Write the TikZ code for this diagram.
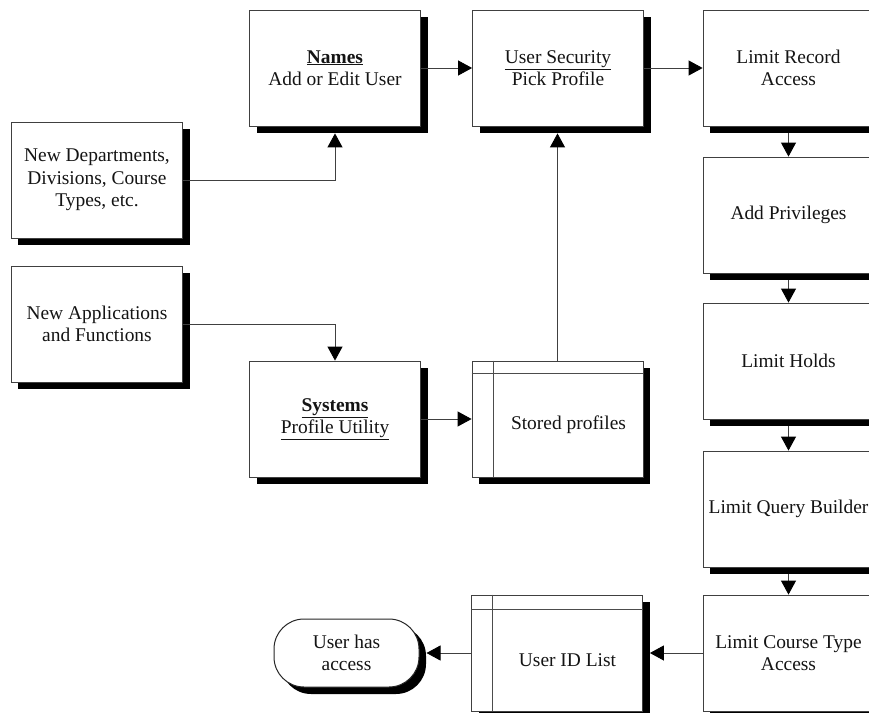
\documentclass[tikz,border=0pt]{standalone}
\usepackage{fontspec}
\setmainfont{Liberation Serif}
\usetikzlibrary{arrows.meta,shadows,calc}
\begin{document}
\begin{tikzpicture}[x=1bp,y=-1bp,
  shadowed/.style={drop shadow={shadow xshift=7bp,shadow yshift=-7bp,fill=black,opacity=1}},
  box/.style={shadowed,draw=black!75,line width=0.8bp,fill=white,minimum width=171bp,minimum height=116bp,inner sep=2bp,align=center,font=\fontsize{19.5}{22.5}\selectfont,text=black!92},
  term/.style={shadowed,draw=black!85,line width=1bp,fill=white,rounded corners=30bp,minimum width=145bp,minimum height=68bp,inner sep=2bp,align=center,font=\fontsize{19.5}{22.5}\selectfont,text=black!92},
  txt/.style={align=center,inner sep=0pt,font=\fontsize{19.5}{22.5}\selectfont,text=black!92},
  inner/.style={draw=black!70,line width=0.8bp},
  conn/.style={draw=black!75,line width=0.9bp,-{Triangle[length=14bp,width=15bp,color=black]}}]
\useasboundingbox (0,0) rectangle (869,713);
\clip (0,0) rectangle (869,713);
% nodes
\node[box] (names) at (335,68) {\underline{\textbf{Names}}\\Add or Edit User};
\node[box] (usersec) at (558,68) {\underline{User Security}\\Pick Profile};
\node[box] (lra) at (788.5,68) {Limit Record\\Access};
\node[box] (newdept) at (97,180) {New Departments,\\Divisions, Course\\Types, etc.};
\node[box] (newapp) at (97,324) {New Applications\\and Functions};
\node[box] (systems) at (335,419) {\underline{\textbf{Systems}}\\\underline{Profile Utility}};
\node[box] (stored) at (557.5,419) {};
\node[box] (addpriv) at (788.5,215) {Add Privileges};
\node[box] (holds) at (788.5,361) {Limit Holds};
\node[box] (lqb) at (788.5,509) {Limit Query Builder};
\node[box] (lcta) at (788.5,653) {Limit Course Type\\Access};
\node[box] (userid) at (557,653) {};
\node[term] (term) at (346.5,653) {User has\\access};
% data store inner lines and texts
\draw[inner] ($(stored.north west)+(0,13)$) -- ($(stored.north east)+(0,13)$);
\draw[inner] ($(stored.north west)+(22,0)$) -- ($(stored.south west)+(22,0)$);
\node[txt] (storedtxt) at ($(stored.center)+(11,6)$) {Stored profiles};
\draw[inner] ($(userid.north west)+(0,15)$) -- ($(userid.north east)+(0,15)$);
\draw[inner] ($(userid.north west)+(21,0)$) -- ($(userid.south west)+(21,0)$);
\node[txt] (useridtxt) at ($(userid.center)+(10.5,7)$) {User ID List};
% shadow-edge coordinates
\coordinate (namesb) at ($(names.south)+(0,7)$);
\coordinate (usersecb) at ($(usersec.south)+(0,7)$);
\coordinate (lrab) at ($(lra.south)+(0,7)$);
\coordinate (addprivb) at ($(addpriv.south)+(0,7)$);
\coordinate (holdsb) at ($(holds.south)+(0,7)$);
\coordinate (lqbb) at ($(lqb.south)+(0,7)$);
\coordinate (useride) at ($(userid.east)+(7,0)$);
\coordinate (terme) at ($(term.east)+(7,0)$);
% connectors
\draw[conn] (names.east) -- (usersec.west);
\draw[conn] (usersec.east) -- (lra.west);
\draw[conn] (newdept.east) -| (namesb);
\draw[conn] (newapp.east) -| (systems.north);
\draw[conn] (systems.east) -- (stored.west);
\draw[conn] (stored.north) -- (stored.north |- usersecb);
\draw[conn] (lrab) -- (addpriv.north);
\draw[conn] (addprivb) -- (holds.north);
\draw[conn] (holdsb) -- (lqb.north);
\draw[conn] (lqbb) -- (lcta.north);
\draw[conn] (lcta.west) -- (useride);
\draw[conn] (userid.west) -- (terme);
\end{tikzpicture}
\end{document}
